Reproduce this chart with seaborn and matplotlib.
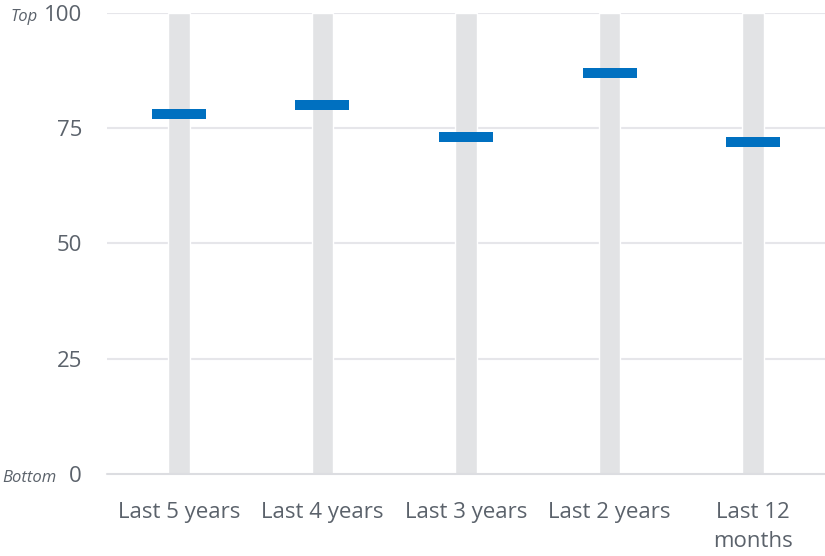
import matplotlib
matplotlib.use("Agg")
import matplotlib.pyplot as plt
import seaborn as sns
import numpy as np
import pandas as pd

categories = ["Last 5 years", "Last 4 years", "Last 3 years", "Last 2 years", "Last 12\nmonths"]
scores = [78, 80, 73, 87, 72]
scale_max = [100, 100, 100, 100, 100]
y_ticks = [0, 25, 50, 75, 100]

TEXT = "#5b626b"
GRID = "#e6e6ea"
TRACK = "#e2e3e5"
BLUE = "#0070c0"

sns.set_theme(style="white")
plt.rcParams["font.family"] = ["Open Sans", "DejaVu Sans"]

df = pd.DataFrame({"period": categories, "score": scores, "track": scale_max})

fig = plt.figure(figsize=(8.25, 5.56), dpi=100)
ax = fig.add_axes([107 / 825, 1 - 474 / 556, 1 - 107 / 825, (474 - 12.7) / 556])

# grey 0-100 track behind each period
sns.barplot(data=df, x="period", y="track", color=TRACK, width=0.15,
            saturation=1, ax=ax, zorder=2)

# score marker: flat rectangle centred on the value
verts = [(-1, -0.195), (1, -0.195), (1, 0.195), (-1, 0.195), (-1, -0.195)]
sns.scatterplot(data=df, x="period", y="score", marker=verts, s=38.9 ** 2,
                color=BLUE, linewidth=0, ax=ax, zorder=4)

ax.set_xlim(-0.5, len(categories) - 0.5)
ax.set_ylim(0, 100)
ax.set_yticks(y_ticks)
ax.set_yticklabels([str(t) for t in y_ticks])
for t in y_ticks[1:]:
    ax.axhline(t, color=GRID, lw=1.5, zorder=1)
ax.axhline(0, color="#dcdde1", lw=1.5, zorder=3, clip_on=False)

for s in ax.spines.values():
    s.set_visible(False)

ax.set_xlabel("")
ax.set_ylabel("")
ax.tick_params(axis="y", length=0, pad=18, labelsize=16, labelcolor=TEXT)
ax.tick_params(axis="x", which="major", length=0, pad=20, labelsize=16, labelcolor=TEXT)
for lbl in ax.get_xticklabels():
    lbl.set_linespacing(1.5)
    lbl.set_verticalalignment("top")

# boundary ticks between periods
ax.set_xticks(np.arange(-0.5, len(categories), 1.0), minor=True)
ax.tick_params(axis="x", which="minor", length=7, width=1.5, color="#dcdde1", direction="out")

fig.text(38 / 825, 1 - 17 / 556, "Top", fontsize=12, style="italic", color=TEXT,
         ha="right", va="center")
fig.text(57 / 825, 1 - 478 / 556, "Bottom", fontsize=12, style="italic", color=TEXT,
         ha="right", va="center")

fig.savefig("out.png", dpi=100)
